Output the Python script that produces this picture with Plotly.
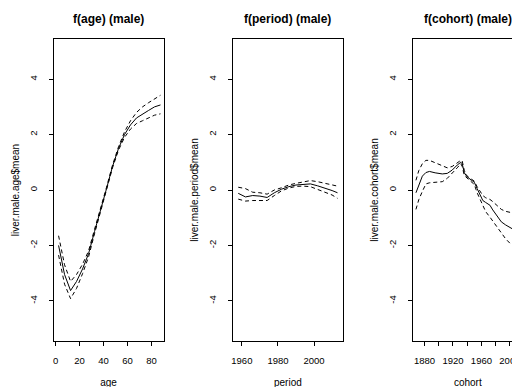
import plotly.graph_objects as go

# ---------------- data ----------------
age = [2.5, 7.5, 12.5, 17.5, 22.5, 27.5, 32.5, 37.5, 42.5, 47.5,
       52.5, 57.5, 62.5, 67.5, 72.5, 77.5, 82.5, 87.5]
age_mean = [-2.0, -3.05, -3.63, -3.3, -2.85, -2.3, -1.5, -0.75, 0.05, 0.85,
            1.5, 2.0, 2.35, 2.6, 2.75, 2.87, 3.0, 3.07]
age_upper = [-1.65, -2.7, -3.3, -3.05, -2.68, -2.2, -1.42, -0.68, 0.1, 0.9,
             1.56, 2.1, 2.5, 2.8, 3.0, 3.15, 3.3, 3.42]
age_lower = [-2.35, -3.4, -3.92, -3.55, -3.02, -2.42, -1.58, -0.82, 0.0, 0.8,
             1.44, 1.9, 2.2, 2.4, 2.5, 2.6, 2.7, 2.75]

period = [1958, 1962, 1966, 1970, 1974, 1978, 1982, 1986, 1990, 1994,
          1998, 2002, 2006, 2010, 2013]
period_mean = [-0.12, -0.25, -0.2, -0.22, -0.27, -0.1, 0.03, 0.12, 0.18, 0.2,
               0.22, 0.15, 0.07, -0.02, -0.1]
period_upper = [0.1, 0.05, -0.08, -0.1, -0.15, 0.0, 0.08, 0.18, 0.24, 0.28,
                0.34, 0.3, 0.25, 0.2, 0.14]
period_lower = [-0.33, -0.4, -0.38, -0.38, -0.38, -0.2, -0.03, 0.07, 0.13, 0.14,
                0.12, 0.02, -0.08, -0.18, -0.3]

cohort = [1868, 1872, 1877, 1882, 1887, 1895, 1905, 1912, 1919, 1926,
          1931, 1933, 1936, 1940, 1946, 1950, 1954, 1958, 1962, 1966,
          1972, 1976, 1980, 1984, 1988, 1994, 2000, 2006, 2010]
cohort_mean = [-0.1, 0.2, 0.5, 0.63, 0.67, 0.62, 0.58, 0.6, 0.72, 0.9,
               1.0, 0.95, 0.62, 0.47, 0.36, 0.28, 0.05, -0.15, -0.38, -0.45,
               -0.55, -0.72, -0.85, -0.98, -1.15, -1.26, -1.35, -1.43, -1.5]
cohort_upper = [0.35, 0.7, 0.95, 1.07, 1.07, 0.98, 0.85, 0.8, 0.85, 0.98,
                1.07, 1.05, 0.7, 0.5, 0.4, 0.32, 0.12, -0.05, -0.2, -0.28,
                -0.34, -0.42, -0.52, -0.62, -0.7, -0.77, -0.8, -0.84, -0.72]
cohort_lower = [-0.7, -0.35, -0.05, 0.22, 0.26, 0.28, 0.3, 0.42, 0.6, 0.8,
                0.95, 0.85, 0.52, 0.42, 0.3, 0.2, -0.1, -0.35, -0.6, -0.78,
                -0.98, -1.12, -1.28, -1.42, -1.58, -1.76, -1.92, -2.06, -2.2]

y_ticks = [-4, -2, 0, 2, 4]
age_ticks = [0, 20, 40, 60, 80]
period_ticks = [1960, 1980, 2000]
cohort_ticks = [1880, 1900, 1920, 1940, 1960, 1980, 2000]
cohort_ticktext = ["1880", "", "1920", "", "1960", "", "2000"]

titles = ["f(age) (male)", "f(period) (male)", "f(cohort) (male)"]
xtitles = ["age", "period", "cohort"]
ytitles = ["liver.male.age$mean", "liver.male.period$mean", "liver.male.cohort$mean"]

# ---------------- figure ----------------
W, H = 520, 387
OFF = 8  # page body margin offset in the viewer
FONT = "Liberation Sans, Arial, sans-serif"
fig = go.Figure()

panels = [
    (age, age_mean, age_upper, age_lower),
    (period, period_mean, period_upper, period_lower),
    (cohort, cohort_mean, cohort_upper, cohort_lower),
]
for i, (x, m, u, l) in enumerate(panels):
    xa = "x" if i == 0 else f"x{i+1}"
    ya = "y" if i == 0 else f"y{i+1}"
    fig.add_trace(go.Scatter(x=x, y=m, mode="lines", xaxis=xa, yaxis=ya,
                             line=dict(color="black", width=1), showlegend=False))
    for b in (u, l):
        fig.add_trace(go.Scatter(x=x, y=b, mode="lines", xaxis=xa, yaxis=ya,
                                 line=dict(color="black", width=1, dash="4px,3px"),
                                 showlegend=False))

box_left = [51.7, 231.7, 412.3]
box_w = 110.5
domains = [[(bl - OFF) / W, (bl - OFF + box_w) / W] for bl in box_left]
xranges = [[-1.7, 90.1], [1955, 2016], [1863.5, 2018.2]]
xtickvals = [age_ticks, period_ticks, cohort_ticks]
xticktexts = [[str(t) for t in age_ticks], [str(t) for t in period_ticks], cohort_ticktext]

top_px, bottom_px = 39 - OFF, 341 - OFF
layout = dict(
    width=W, height=H,
    margin=dict(l=0, r=0, t=top_px, b=H - bottom_px, pad=0),
    paper_bgcolor="white", plot_bgcolor="white",
    font=dict(family=FONT, color="black", size=10),
    showlegend=False,
)
annotations = []
for i in range(3):
    sx = "xaxis" if i == 0 else f"xaxis{i+1}"
    sy = "yaxis" if i == 0 else f"yaxis{i+1}"
    ya = "y" if i == 0 else f"y{i+1}"
    xa = "x" if i == 0 else f"x{i+1}"
    layout[sx] = dict(
        domain=domains[i], range=xranges[i], anchor=ya,
        showgrid=False, zeroline=False,
        showline=True, linecolor="black", linewidth=1, mirror=True,
        ticks="outside", ticklen=4, tickwidth=1, tickcolor="black",
        tickvals=xtickvals[i], ticktext=xticktexts[i],
        tickfont=dict(size=9.5), ticklabelstandoff=7,
        title=dict(text=xtitles[i], font=dict(size=10), standoff=13),
    )
    layout[sy] = dict(
        domain=[0, 1], range=[-5.45, 5.45], anchor=xa,
        showgrid=False, zeroline=False,
        showline=True, linecolor="black", linewidth=1, mirror=True,
        ticks="outside", ticklen=4, tickwidth=1, tickcolor="black",
        tickvals=y_ticks, ticktext=[str(t) for t in y_ticks], tickangle=-90,
        tickfont=dict(size=9.5), ticklabelstandoff=8,
        title=dict(text=ytitles[i], font=dict(size=10), standoff=6),
    )
    annotations.append(dict(
        text=f"<b>{titles[i]}</b>", xref=sx.replace("axis", "") + " domain", yref="paper",
        x=0.5, y=1, yshift=20, xanchor="center", yanchor="middle",
        showarrow=False, font=dict(size=12, family=FONT),
    ))
layout["annotations"] = annotations
fig.update_layout(**layout)
fig.write_html("out.html")
